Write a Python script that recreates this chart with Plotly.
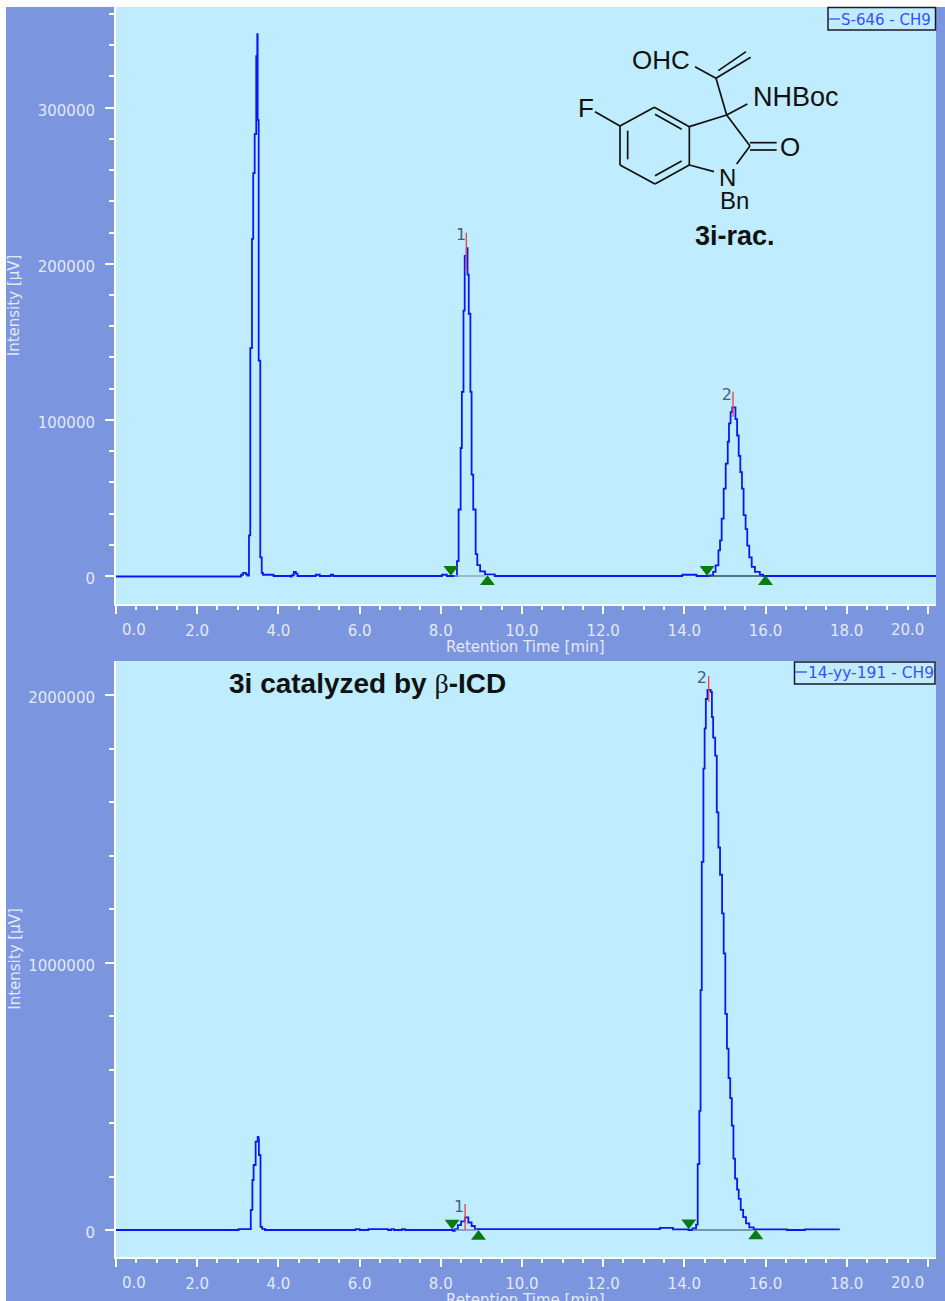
import plotly.graph_objects as go

W, H = 945, 1301
PANEL_BLUE = "#7b95df"
PLOT_BLUE = "#bfedff"
TRACE = "#0c18f4"
TEXT = "#e3e9f8"
GREEN = "#0a7a12"

# ---- upper chromatogram (S-646) ----
top_t = [0.0, 3.02, 3.08, 3.13, 3.2, 3.24, 3.276, 3.308, 3.35, 3.38, 3.416, 3.455, 3.48, 3.49, 3.515, 3.554,
         3.59, 3.62, 3.85, 3.88, 4.3, 4.33, 4.38, 4.43, 4.47, 4.9, 4.92, 5.0, 5.02, 5.27, 5.29, 5.35,
         8.0, 8.03, 8.15, 8.35, 8.40, 8.44, 8.49, 8.52, 8.56, 8.59, 8.64, 8.66, 8.69, 8.73, 8.76, 8.80,
         8.86, 8.90, 8.97, 9.09, 9.33, 13.95, 14.3, 14.63, 14.71, 14.77, 14.84, 14.88, 14.92, 14.97, 15.02,
         15.07, 15.10, 15.14, 15.18, 15.23, 15.26, 15.30, 15.34, 15.38, 15.42, 15.46, 15.51, 15.55, 15.60,
         15.66, 15.74, 15.86, 15.94, 20.2]
top_i = [-300, -300, 800, 2000, 1000, 300, 26000, 146000, 216000, 258000, 283000, 333000, 347000, 292000, 138000, 12000,
         2000, 800, 800, 0, -300, 500, 2700, 1500, 0, 0, 800, 800, 0, 0, 800, 0,
         0, 800, 0, 0, 9500, 42600, 82000, 118000, 170000, 205000, 210000, 193000, 168000, 118000, 65000, 42600,
         14000, 7000, 3000, 1000, 0, 800, 0, 400, 2600, 6800, 16400, 22800, 36700, 56000, 72000,
         86000, 97800, 105000, 108000, 108000, 100500, 90000, 77000, 66500, 56000, 39000, 30000, 19500, 12000,
         5800, 2600, 800, 0, 0]
top_peak_t = [8.63, 15.2]
top_peak_lo = [196000, 102000]
top_peak_hi = [220000, 118000]
top_label_t = [8.50, 15.05]
top_label_i = [217900, 115400]
top_start_t = [8.25, 14.56]
top_start_i = [4300, 4300]
top_end_t = [9.15, 16.0]
top_end_i = [-3600, -3600]
top_base_t = [[8.33, 9.08], [14.6, 15.95]]
top_base_c = ["#8fa3ad", "#2c4f5c"]

# ---- lower chromatogram (14-yy-191) ----
bot_t = [0.0, 3.02, 3.32, 3.36, 3.39, 3.44, 3.49, 3.51, 3.52, 3.56, 3.60, 3.67, 5.9, 6.0, 6.22, 6.7, 6.78, 6.85, 7.05, 7.12,
         8.30, 8.35, 8.42, 8.50, 8.60, 8.68, 8.76, 8.84, 13.4, 13.72, 14.10, 14.20, 14.29, 14.33, 14.37, 14.40,
         14.43, 14.47, 14.50, 14.53, 14.57, 14.65, 14.68, 14.71, 14.76, 14.80, 14.84, 14.88, 14.93, 14.97, 15.01,
         15.05, 15.09, 15.13, 15.17, 15.21, 15.25, 15.30, 15.34, 15.39, 15.45, 15.52, 15.60, 15.71, 16.53, 16.97, 17.83]
bot_i = [0, 3000, 75000, 187000, 243000, 330000, 348000, 340000, 280000, 12000, 4000, 0, 3000, 0, 3000, 0, 3000, 0, 3000, 0,
         -3000, 3000, 18000, 32000, 47000, 28000, 15000, 3000, 8000, 2000, 0, 6000, 20000, 246000, 445000, 897000,
         1376000, 1725000, 1875000, 1985000, 2019000, 2012000, 1917000, 1841000, 1773000, 1561000, 1430000, 1328000, 1184000, 1034000, 808000,
         678000, 568000, 493000, 390000, 267000, 192000, 151000, 116000, 75000, 48000, 25000, 10000, 2500, 0, 2500, 2500]
bot_peak_t = [8.60, 14.6]
bot_peak_lo = [0, 1975000]
bot_peak_hi = [97000, 2071000]
bot_label_t = [8.45, 14.43]
bot_label_i = [82000, 2060000]
bot_start_t = [8.28, 14.11]
bot_start_i = [26000, 27000]
bot_end_t = [8.93, 15.76]
bot_end_i = [-24000, -22000]
bot_base_t = [[8.35, 8.9], [14.2, 15.7]]
bot_base_c = ["#6f8c9a", "#5a7c8a"]
peak_names = ["1", "2"]

x_ticks = [2, 4, 6, 8, 10, 12, 14, 16, 18]
x_labels = ["2.0", "4.0", "6.0", "8.0", "10.0", "12.0", "14.0", "16.0", "18.0"]
x_ends = [0, 20]
top_y_ticks = [0, 100000, 200000, 300000]
bot_y_ticks = [0, 1000000, 2000000]


def px(x):
    return x / W


def py(y):
    return 1 - y / H


fig = go.Figure()


def add_panel(xa, ya, t, i, name, base_t, base_c, pk_t, pk_lo, pk_hi, lab_t, lab_i, st_t, st_i, en_t, en_i):
    kw = dict(xaxis=xa, yaxis=ya, showlegend=False, hoverinfo="skip")
    fig.add_trace(go.Scatter(x=t, y=i, mode="lines", name=name,
                             line=dict(color=TRACE, width=1.8, shape="hv"), **kw))
    for bt, c in zip(base_t, base_c):
        fig.add_trace(go.Scatter(x=bt, y=[0, 0], mode="lines", line=dict(color=c, width=1.4), **kw))
    for a, lo, hi in zip(pk_t, pk_lo, pk_hi):
        fig.add_trace(go.Scatter(x=[a, a], y=[lo, hi], mode="lines", line=dict(color="#f0444e", width=1.4), **kw))
    fig.add_trace(go.Scatter(x=st_t, y=st_i, mode="markers",
                             marker=dict(symbol="triangle-down", size=13, color=GREEN), **kw))
    fig.add_trace(go.Scatter(x=en_t, y=en_i, mode="markers",
                             marker=dict(symbol="triangle-up", size=13, color=GREEN), **kw))
    fig.add_trace(go.Scatter(x=lab_t, y=lab_i, mode="text", text=peak_names,
                             textfont=dict(family="DejaVu Sans", size=16, color="#44607c"), **kw))


add_panel("x", "y", top_t, top_i, "S-646 - CH9", top_base_t, top_base_c, top_peak_t, top_peak_lo, top_peak_hi,
          top_label_t, top_label_i, top_start_t, top_start_i, top_end_t, top_end_i)
add_panel("x2", "y2", bot_t, bot_i, "14-yy-191 - CH9", bot_base_t, bot_base_c, bot_peak_t, bot_peak_lo, bot_peak_hi,
          bot_label_t, bot_label_i, bot_start_t, bot_start_i, bot_end_t, bot_end_i)

tick_font = dict(family="DejaVu Sans", size=15, color=TEXT)
title_font = dict(family="DejaVu Sans", size=15, color=TEXT)


def xaxis(domain_anchor):
    return dict(domain=[px(116), px(936)], range=[0, 20.2], anchor=domain_anchor,
                tickmode="array", tickvals=x_ticks + x_ends, ticktext=x_labels + ["", ""],
                ticks="outside", ticklen=8, tickwidth=2, tickcolor="white", tickfont=tick_font,
                ticklabelstandoff=4, showgrid=False, zeroline=False,
                showline=True, linecolor="white", linewidth=2,
                minor=dict(dtick=0.5, tick0=0, ticks="outside", ticklen=4, tickwidth=2, tickcolor="white", showgrid=False))


def yaxis(dom, rng, vals, minor, anchor, standoff):
    return dict(domain=dom, range=rng, anchor=anchor,
                tickmode="array", tickvals=vals, ticktext=[str(v) for v in vals],
                ticks="outside", ticklen=9, tickwidth=2, tickcolor="white", tickfont=tick_font,
                ticklabelstandoff=7, ticklabelshift=3, showgrid=False, zeroline=False,
                showline=True, linecolor="white", linewidth=2,
                minor=dict(dtick=minor, tick0=0, ticks="outside", ticklen=5, tickwidth=2, tickcolor="white", showgrid=False),
                title=dict(text="Intensity [µV]", font=title_font, standoff=standoff))


shapes = [
    dict(type="rect", xref="paper", yref="paper", x0=px(6), x1=1, y0=0, y1=py(7),
         fillcolor=PANEL_BLUE, line_width=0, layer="below"),
    dict(type="rect", xref="paper", yref="paper", x0=px(116), x1=px(936), y0=py(604), y1=py(7),
         fillcolor=PLOT_BLUE, line_width=0, layer="below"),
    dict(type="rect", xref="paper", yref="paper", x0=px(116), x1=px(936), y0=py(1257), y1=py(661),
         fillcolor=PLOT_BLUE, line_width=0, layer="below"),
]


def seg(x0, y0, x1, y1, color="#111111", width=1.7):
    shapes.append(dict(type="line", xref="paper", yref="paper", x0=px(x0), y0=py(y0), x1=px(x1), y1=py(y1),
                       line=dict(color=color, width=width)))


def mol(a, b, c, d):
    # structure drawing: coordinates measured on the 3x crop whose origin is (560, 0)
    seg(560 + a / 3, b / 3, 560 + c / 3, d / 3)


bonds = [
    (180, 378, 283, 322), (283, 322, 388, 380), (388, 380, 388, 495), (388, 495, 285, 552),
    (285, 552, 180, 495), (180, 495, 180, 378), (203, 392, 203, 478), (285, 343, 365, 388),
    (285, 527, 365, 483), (105, 335, 180, 378), (388, 380, 500, 345), (500, 345, 570, 438),
    (570, 438, 530, 492), (462, 515, 388, 495), (570, 428, 650, 428), (570, 450, 650, 450),
    (500, 345, 562, 312), (500, 345, 468, 235), (468, 235, 405, 200), (468, 235, 572, 172),
    (475, 212, 558, 155),
]
for b in bonds:
    mol(*b)

# legend boxes
shapes.append(dict(type="rect", xref="paper", yref="paper", x0=px(828), x1=px(935.5), y0=py(30), y1=py(7.5),
                   line=dict(color="#1a1a2a", width=1.5)))
shapes.append(dict(type="rect", xref="paper", yref="paper", x0=px(794.5), x1=px(935), y0=py(684), y1=py(662),
                   line=dict(color="#1a1a2a", width=1.5)))
seg(829, 19, 840, 19, color="#3a4dff", width=1.3)
seg(795, 672, 807, 672, color="#3a4dff", width=1.3)

notes = []


def label(x, y, text, size, family="Liberation Sans", color="#111111", anchor="center", angle=0):
    notes.append(dict(xref="paper", yref="paper", x=px(x), y=py(y), text=text, showarrow=False, borderpad=0,
                      xanchor=anchor, yanchor="middle", textangle=angle, font=dict(family=family, size=size, color=color)))


label(661, 60, "OHC", 26)
label(796, 97, "NHBoc", 27)
label(586, 108, "F", 26)
label(790, 147, "O", 26)
label(727, 177, "N", 24)
label(734, 200, "Bn", 24)
label(734.5, 236, "<b>3i-rac.</b>", 27)
label(367.5, 683, '<b>3i catalyzed by </b><span style="font-family:Liberation Serif">β</span><b>-ICD</b>', 28)
label(840, 20, "S-646 - CH9", 15, family="DejaVu Sans", color="#3a4dff", anchor="left")
label(807, 673, "14-yy-191 - CH9", 15.5, family="DejaVu Sans", color="#3a4dff", anchor="left")
label(134, 630, "0.0", 15, family="DejaVu Sans", color=TEXT)
label(907, 630, "20.0", 15, family="DejaVu Sans", color=TEXT)
label(134, 1283, "0.0", 15, family="DejaVu Sans", color=TEXT)
label(907, 1283, "20.0", 15, family="DejaVu Sans", color=TEXT)
label(525, 647, "Retention Time [min]", 15, family="DejaVu Sans", color=TEXT)
label(525, 1300, "Retention Time [min]", 15, family="DejaVu Sans", color=TEXT)

fig.update_layout(
    width=W, height=H, margin=dict(l=0, r=0, t=0, b=0, pad=0, autoexpand=False),
    paper_bgcolor="white", plot_bgcolor="rgba(0,0,0,0)", showlegend=False,
    xaxis=xaxis("y"),
    xaxis2=xaxis("y2"),
    yaxis=yaxis([py(604), py(7)], [-17926, 364469], top_y_ticks, 20000, "x", 14),
    yaxis2=yaxis([py(1257), py(661)], [-100935, 2127103], bot_y_ticks, 200000, "x2", 4),
    shapes=shapes, annotations=notes,
)

fig.write_html("out.html", config={"displayModeBar": False},
               post_script="document.body.style.margin='0';document.body.style.overflow='hidden';")
